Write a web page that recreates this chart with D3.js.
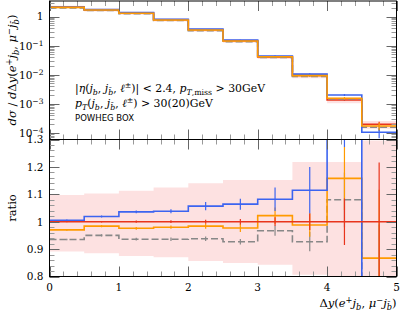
<!DOCTYPE html>
<html>
<script src="https://d3js.org/d3.v7.min.js"></script>
<head>
<style>
  body { margin: 0; background: #fff; }
  svg { display: block; }
  text { font-family: "DejaVu Serif", serif; fill: #000; }
</style>
</head>
<body>
<script>
const width = 411, height = 313;

// bins in Delta y
const binEdges = [0, 0.5, 1, 1.5, 2, 2.5, 3, 3.5, 4, 4.5, 5];

// upper panel: d sigma / d Delta y
const redVals    = [2.15, 1.72, 1.34, 0.785, 0.354, 0.148, 0.0410, 0.00945, 0.00135, 0.000197];
const blueVals   = [2.16, 1.75, 1.39, 0.815, 0.374, 0.158, 0.0444, 0.0105, 0.00201, 0.000105];
const orangeVals = [2.09, 1.69, 1.31, 0.770, 0.348, 0.145, 0.0419, 0.00934, 0.00156, 0.000171];
const greyVals   = [2.01, 1.63, 1.26, 0.735, 0.332, 0.137, 0.0397, 0.00876, 0.00146, 0.000155];

// lower panel: ratio to the red curve
const redRatio    = [1, 1, 1, 1, 1, 1, 1, 1, 1, 1];
const blueRatio   = [1.005, 1.019, 1.036, 1.038, 1.057, 1.064, 1.082, 1.115, 1.37, 0.53];
const orangeRatio = [0.970, 0.984, 0.976, 0.980, 0.984, 0.977, 1.022, 0.988, 1.158, 0.867];
const greyRatio   = [0.935, 0.950, 0.936, 0.936, 0.938, 0.927, 0.967, 0.927, 1.080, 0.79];

// errors (in ratio units)
const redErr    = [0.002, 0.003, 0.004, 0.005, 0.007, 0.01, 0.016, 0.03, 0.085, 0.216];
const blueErr   = [0.003, 0.004, 0.005, 0.007, 0.015, 0.02, 0.043, 0.085, 0.097, 0.2];
const orangeErr = [0.003, 0.004, 0.005, 0.006, 0.01, 0.015, 0.03, 0.043, 0.115, 0.25];
const greyErr   = [0.003, 0.004, 0.005, 0.006, 0.008, 0.01, 0.018, 0.035, 0.1, 0.2];

// uncertainty band of the red curve (ratio)
const bandHi = [1.097, 1.103, 1.113, 1.125, 1.14, 1.152, 1.152, 1.218, 1.218, 1.296];
const bandLo = [0.891, 0.885, 0.875, 0.870, 0.857, 0.849, 0.843, 0.806, 0.78, 0.70];

const xTicksMajor = [0, 1, 2, 3, 4, 5];
const ratioTicks = [0.8, 0.9, 1.0, 1.1, 1.2, 1.3];
const ratioLabels = ["0.8", "0.9", "1", "1.1", "1.2", "1.3"];
const logTicks = [1, 0.1, 0.01, 0.001, 0.0001];
const logExp = ["", "−1", "−2", "−3", "−4"];

const series = [
  { name: "red", color: "#e8341c", top: redVals, ratio: redRatio, err: redErr, dash: null },
  { name: "grey", color: "#888888", top: greyVals, ratio: greyRatio, err: greyErr, dash: "7,3" },
  { name: "blue", color: "#3c64f0", top: blueVals, ratio: blueRatio, err: blueErr, dash: null },
  { name: "orange", color: "#ff9a00", top: orangeVals, ratio: orangeRatio, err: orangeErr, dash: null }
];

const svg = d3.select("body").append("svg").attr("width", width).attr("height", height);

const x = d3.scaleLinear().domain([0, 5]).range([49.5, 396.5]);
const yTop = d3.scaleLog().domain([Math.pow(10, -4.23), Math.pow(10, 0.54)]).range([139.5, 1]);
const yRat = d3.scaleLinear().domain([0.8, 1.3]).range([276.5, 139.5]);

const defs = svg.append("defs");
defs.append("clipPath").attr("id", "clipTop").append("rect")
  .attr("x", x(0)).attr("y", yTop.range()[1]).attr("width", x(5) - x(0)).attr("height", yTop.range()[0] - yTop.range()[1]);
defs.append("clipPath").attr("id", "clipRat").append("rect")
  .attr("x", x(0)).attr("y", yRat(1.3)).attr("width", x(5) - x(0)).attr("height", yRat(0.8) - yRat(1.3));

function stepData(vals) {
  const pts = vals.map((v, i) => [binEdges[i], v]);
  pts.push([binEdges[binEdges.length - 1], vals[vals.length - 1]]);
  return pts;
}
const centers = binEdges.slice(0, -1).map((e, i) => (e + binEdges[i + 1]) / 2);

// ---- upper panel ----
const gTop = svg.append("g").attr("clip-path", "url(#clipTop)");
const topBand = redVals.map((v, i) => ({ x: binEdges[i], lo: v * bandLo[i], hi: v * bandHi[i] }));
topBand.push({ x: 5, lo: topBand[9].lo, hi: topBand[9].hi });
gTop.append("path")
  .attr("d", d3.area().curve(d3.curveStepAfter).x(d => x(d.x)).y0(d => yTop(d.lo)).y1(d => yTop(d.hi))(topBand))
  .attr("fill", "#fde1e1");

series.forEach(s => {
  gTop.append("path")
    .attr("d", d3.line().curve(d3.curveStepAfter).x(d => x(d[0])).y(d => yTop(d[1]))(stepData(s.top)))
    .attr("fill", "none").attr("stroke", s.color).attr("stroke-width", 1.6)
    .attr("stroke-dasharray", s.dash);
  gTop.selectAll(null).data(s.top).join("line")
    .attr("x1", (d, i) => x(centers[i])).attr("x2", (d, i) => x(centers[i]))
    .attr("y1", (d, i) => yTop(d * (1 + s.err[i] / s.ratio[i])))
    .attr("y2", (d, i) => yTop(Math.max(1e-6, d * (1 - s.err[i] / s.ratio[i]))))
    .attr("stroke", s.color).attr("stroke-width", 1.2);
});

// ---- ratio panel ----
const gRat = svg.append("g").attr("clip-path", "url(#clipRat)");
const ratBand = bandHi.map((v, i) => ({ x: binEdges[i], lo: bandLo[i], hi: v }));
ratBand.push({ x: 5, lo: bandLo[9], hi: bandHi[9] });
gRat.append("path")
  .attr("d", d3.area().curve(d3.curveStepAfter).x(d => x(d.x)).y0(d => yRat(d.lo)).y1(d => yRat(d.hi))(ratBand))
  .attr("fill", "#fde1e1");

const ratOrder = [series[1], series[3], series[2], series[0]];
ratOrder.forEach(s => {
  gRat.append("path")
    .attr("d", d3.line().curve(d3.curveStepAfter).x(d => x(d[0])).y(d => yRat(d[1]))(stepData(s.ratio)))
    .attr("fill", "none").attr("stroke", s.color).attr("stroke-width", 1.6)
    .attr("stroke-dasharray", s.dash);
  gRat.selectAll(null).data(s.ratio).join("line")
    .attr("x1", (d, i) => x(centers[i])).attr("x2", (d, i) => x(centers[i]))
    .attr("y1", (d, i) => yRat(d + s.err[i]))
    .attr("y2", (d, i) => yRat(d - s.err[i]))
    .attr("stroke", s.color).attr("stroke-width", 1.2);
});

// ---- frames and ticks ----
const axes = svg.append("g");
function tick(x1, y1, x2, y2, major) {
  axes.append("line").attr("x1", x1).attr("y1", y1).attr("x2", x2).attr("y2", y2)
    .attr("stroke", major ? "#666" : "#999").attr("stroke-width", 1);
}
const xMinor = d3.range(0, 25.5).map(k => k * 0.2);
xMinor.forEach(v => {
  const major = Math.abs(v - Math.round(v)) < 1e-6;
  const L = major ? 10 : 5;
  const px = Math.round(x(v)) + 0.5;
  tick(px, yTop.range()[1], px, yTop.range()[1] + L, major);   // top of upper panel
  tick(px, 139.5, px, 139.5 - L, major);                       // bottom of upper panel
  tick(px, 139.5, px, 139.5 + L, major);                       // top of ratio panel
  tick(px, 276.5, px, 276.5 - L, major);                       // bottom of ratio panel
});
// log ticks
for (let d = -5; d <= 0; d++) {
  for (let k = 1; k <= 9; k++) {
    const v = k * Math.pow(10, d);
    if (v < yTop.domain()[0] || v > yTop.domain()[1]) continue;
    const py = Math.round(yTop(v)) + 0.5;
    const L = k === 1 ? 10 : 5;
    tick(x(0), py, x(0) + L, py, k === 1);
    tick(x(5), py, x(5) - L, py, k === 1);
  }
}
// ratio ticks
d3.range(0, 25.5).map(k => 0.8 + k * 0.02).forEach(v => {
  const major = Math.abs(v * 10 - Math.round(v * 10)) < 1e-6;
  const L = major ? 10 : 5;
  const py = Math.round(yRat(v)) + 0.5;
  tick(x(0), py, x(0) + L, py, major);
  tick(x(5), py, x(5) - L, py, major);
});
// frames
axes.append("rect").attr("x", x(0)).attr("y", yTop.range()[1]).attr("width", x(5) - x(0))
  .attr("height", 139.5 - yTop.range()[1]).attr("fill", "none").attr("stroke", "#000");
axes.append("rect").attr("x", x(0)).attr("y", 139.5).attr("width", x(5) - x(0))
  .attr("height", 276.5 - 139.5).attr("fill", "none").attr("stroke", "#000");

// ---- text ----
function rich(sel, parts, size) {
  let off = 0;
  parts.forEach(([str, cls]) => {
    const t = sel.append("tspan").text(str);
    let target = 0;
    if (cls === "sub" || cls === "subr") { target = size * 0.28; t.attr("font-size", size * 0.72); }
    if (cls === "sup") { target = -size * 0.38; t.attr("font-size", size * 0.72); }
    if (cls === "i" || cls === "sub") t.attr("font-style", "italic");
    if (target !== off) { t.attr("dy", target - off); off = target; }
  });
  return sel;
}

const tickFont = 10.5;
// x tick labels
xTicksMajor.forEach(v => {
  svg.append("text").attr("x", x(v)).attr("y", 290.5).attr("text-anchor", "middle")
    .attr("font-size", tickFont).text(v);
});
// ratio labels
ratioTicks.forEach((v, i) => {
  svg.append("text").attr("x", 43.5).attr("y", yRat(v) + 3.8).attr("text-anchor", "end")
    .attr("font-size", tickFont).text(ratioLabels[i]);
});
// log labels
logTicks.forEach((v, i) => {
  const t = svg.append("text").attr("x", 43.5).attr("y", yTop(v) + 3.8).attr("text-anchor", "end")
    .attr("font-size", tickFont);
  if (i === 0) t.text("1");
  else rich(t, [["10", ""], [logExp[i], "sup"]], tickFont);
});

const labFont = 11.5;
const bbar = "b\u0304";
rich(svg.append("text").attr("transform", "translate(16,70) rotate(-90)").attr("text-anchor", "middle")
  .attr("font-size", labFont),
  [["dσ", "i"], [" / ", ""], ["d", "i"], ["Δ", ""], ["y", "i"], ["(", ""], ["e", "i"], ["+", "sup"],
   ["j", "i"], ["b", "sub"], [", ", ""], ["μ", "i"], ["−", "sup"], ["j", "i"], [bbar, "sub"], [")", ""]], labFont);

svg.append("text").attr("transform", "translate(16,208) rotate(-90)").attr("text-anchor", "middle")
  .attr("font-size", labFont).text("ratio");

rich(svg.append("text").attr("x", 396.5).attr("y", 307).attr("text-anchor", "end").attr("font-size", labFont),
  [["Δ", ""], ["y", "i"], ["(", ""], ["e", "i"], ["+", "sup"], ["j", "i"], ["b", "sub"], [", ", ""],
   ["μ", "i"], ["−", "sup"], ["j", "i"], [bbar, "sub"], [")", ""]], labFont);

const noteFont = 10.9;
rich(svg.append("text").attr("x", 75).attr("y", 92).attr("font-size", noteFont),
  [["|", ""], ["η", "i"], ["(", ""], ["j", "i"], ["b", "sub"], [", ", ""], ["j", "i"], [bbar, "sub"], [", ", ""],
   ["ℓ", "i"], ["±", "sup"], [")| < 2.4, ", ""], ["p", "i"], ["T", "sub"], [",miss", "subr"], [" > 30GeV", ""]], noteFont);
rich(svg.append("text").attr("x", 75).attr("y", 107).attr("font-size", noteFont),
  [["p", "i"], ["T", "sub"], ["(", ""], ["j", "i"], ["b", "sub"], [", ", ""], ["j", "i"], [bbar, "sub"], [", ", ""],
   ["ℓ", "i"], ["±", "sup"], [") > 30(20)GeV", ""]], noteFont);
svg.append("text").attr("x", 75).attr("y", 121).attr("font-size", 9.5)
  .style("font-family", "'DejaVu Sans', sans-serif")
  .attr("textLength", 59).attr("lengthAdjust", "spacingAndGlyphs").text("POWHEG BOX");
</script>
</body>
</html>
